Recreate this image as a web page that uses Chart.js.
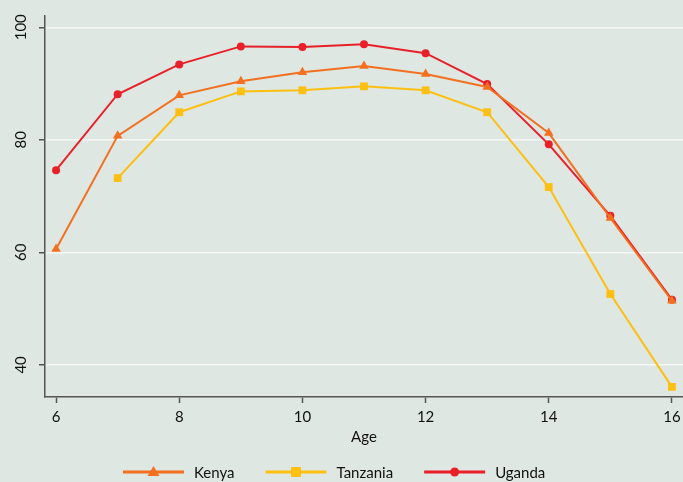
<!DOCTYPE html>
<html lang="en">
<head>
  <meta charset="UTF-8" />
  <title>School attendance by age</title>
  <script src="https://cdn.jsdelivr.net/npm/chart.js"></script>
  <style>
    html, body { margin: 0; padding: 0; background: #dee7e1; }
    .wrap { width: 683px; height: 482px; }
  </style>
</head>
<body>
  <div class="wrap"><canvas id="chart" width="683" height="482"></canvas></div>
  <script>
    // ages on the x axis
    const ages = [6, 7, 8, 9, 10, 11, 12, 13, 14, 15, 16];
    // attendance % by country (null = no data)
    const kenya    = [60.6, 80.7, 87.9, 90.4, 92.0, 93.1, 91.7, 89.4, 81.2, 66.1, 51.4];
    const tanzania = [null, 73.2, 84.9, 88.6, 88.8, 89.5, 88.8, 84.9, 71.6, 52.6, 36.1];
    const uganda   = [74.6, 88.1, 93.4, 96.6, 96.5, 97.0, 95.4, 89.9, 79.2, 66.5, 51.6];
    const yTicks = [40, 60, 80, 100];
    const xTicks = [6, 8, 10, 12, 14, 16];
    const xTitle = 'Age';

    const FONT = 'Lato, "Open Sans", sans-serif';
    const AXIS = '#555';
    const TEXT = '#111';

    const toPts = vals => ages.map((a, i) => ({ x: a, y: vals[i] }));

    const series = [
      { label: 'Kenya', data: kenya, color: '#f37021', style: 'triangle', r: 5.5 },
      { label: 'Tanzania', data: tanzania, color: '#fcbf12', style: 'rect', r: 5.5 },
      { label: 'Uganda', data: uganda, color: '#e8202a', style: 'circle', r: 4 }
    ];

    const bg = {
      id: 'bg',
      beforeDraw(chart) {
        const ctx = chart.ctx;
        ctx.save();
        ctx.fillStyle = '#dee7e1';
        ctx.fillRect(0, 0, chart.width, chart.height);
        ctx.restore();
      }
    };

    // tick labels, axis title and the line+marker legend
    const extras = {
      id: 'extras',
      afterDraw(chart) {
        const ctx = chart.ctx;
        const y = chart.scales.y, x = chart.scales.x;
        ctx.save();
        ctx.fillStyle = TEXT;
        ctx.font = '15px ' + FONT;
        ctx.textAlign = 'center';
        ctx.textBaseline = 'middle';
        yTicks.forEach(v => {
          ctx.save();
          ctx.translate(21, y.getPixelForValue(v));
          ctx.rotate(-Math.PI / 2);
          ctx.fillText(String(v), 0, 0);
          ctx.restore();
        });
        xTicks.forEach(v => ctx.fillText(String(v), x.getPixelForValue(v), x.top + 20));
        ctx.fillText(xTitle, 364, x.top + 40);

        // legend
        const ly = 472;
        let lx = 123;
        ctx.textAlign = 'left';
        series.forEach(s => {
          ctx.strokeStyle = s.color;
          ctx.fillStyle = s.color;
          ctx.lineWidth = 3;
          ctx.beginPath(); ctx.moveTo(lx, ly); ctx.lineTo(lx + 61, ly); ctx.stroke();
          const cx = lx + 30.5;
          ctx.beginPath();
          if (s.style === 'triangle') { ctx.moveTo(cx, ly - 6); ctx.lineTo(cx + 6, ly + 4); ctx.lineTo(cx - 6, ly + 4); ctx.closePath(); }
          else if (s.style === 'rect') { ctx.rect(cx - 5, ly - 5, 10, 10); }
          else { ctx.arc(cx, ly, 4.5, 0, Math.PI * 2); }
          ctx.fill();
          ctx.fillStyle = TEXT;
          ctx.fillText(s.label, lx + 71, ly + 1);
          lx += 71 + ctx.measureText(s.label).width + 31;
        });
        ctx.restore();
      }
    };

    new Chart(document.getElementById('chart'), {
      type: 'line',
      data: {
        datasets: series.map(s => ({
          label: s.label,
          data: toPts(s.data),
          borderColor: s.color,
          backgroundColor: s.color,
          borderWidth: 2,
          pointStyle: s.style,
          pointRadius: s.r,
          pointHoverRadius: s.r,
          pointBorderWidth: 0,
          spanGaps: false,
          tension: 0
        }))
      },
      options: {
        responsive: false,
        animation: false,
        layout: { autoPadding: false, padding: { top: 16, right: 0, bottom: 79, left: 0 } },
        plugins: {
          tooltip: { enabled: false },
          legend: { display: false }
        },
        scales: {
          x: {
            type: 'linear',
            min: 5.82,
            max: 16.18,
            afterBuildTicks: ax => { ax.ticks = xTicks.map(v => ({ value: v })); },
            ticks: { display: false },
            grid: { display: true, drawOnChartArea: false, tickColor: AXIS, tickLength: 6, tickWidth: 1.5 },
            border: { color: AXIS, width: 1.5 }
          },
          y: {
            min: 34.3,
            max: 102,
            afterBuildTicks: ax => { ax.ticks = yTicks.map(v => ({ value: v })); },
            afterFit: ax => { ax.width = 45; },
            ticks: { color: 'rgba(0,0,0,0)', font: { family: FONT, size: 15 } },
            grid: { color: '#f4f7f5', lineWidth: 1.5, tickColor: AXIS, tickLength: 6, tickWidth: 1.5 },
            border: { color: AXIS, width: 1.5 }
          }
        }
      },
      plugins: [bg, extras]
    });
  </script>
</body>
</html>
